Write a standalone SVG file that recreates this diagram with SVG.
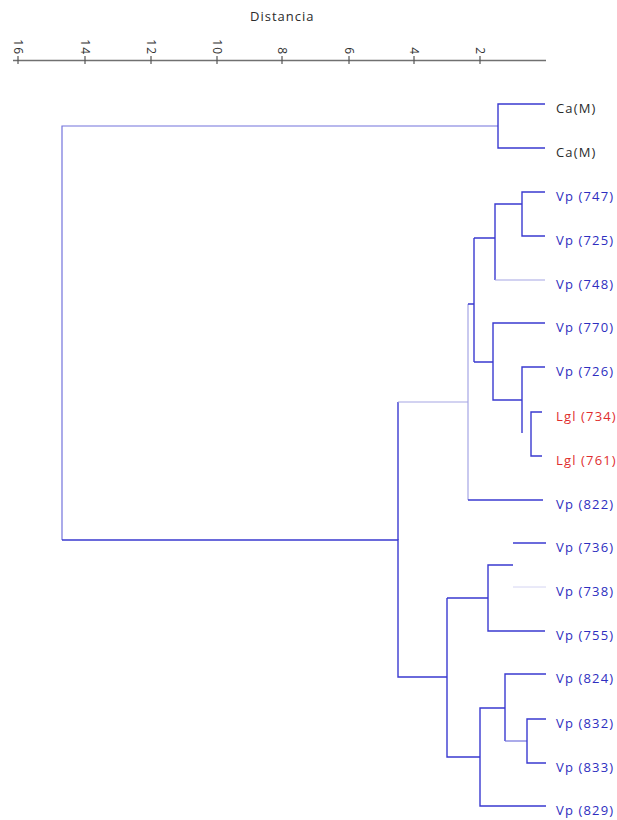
<svg xmlns="http://www.w3.org/2000/svg" width="617" height="820" viewBox="0 0 617 820">
<style>
.ln{fill:none;stroke:#3a3ad0;stroke-width:1.4}
.fa{fill:none;stroke:#a6a6e4;stroke-width:1.2}
.vf{fill:none;stroke:#d4d4f2;stroke-width:1}
.md{fill:none;stroke:#7373dc;stroke-width:1.2}
.lb{font-family:"Open Sans",sans-serif;font-size:13px;letter-spacing:1.15px;fill:#2e2ec0}
.red{fill:#e02e2e}
.gr{fill:#2b2b2b}
.tk{font-family:"Open Sans",sans-serif;font-size:12px;letter-spacing:1px;fill:#333}
</style>
<rect width="617" height="820" fill="#ffffff"/>
<g id="axis">
<text x="250" y="21" style="font-family:'Open Sans',sans-serif;font-size:13px;letter-spacing:1px;fill:#2b2b2b">Distancia</text>
<line x1="13" y1="60.5" x2="546" y2="60.5" stroke="#707070" stroke-width="1.6"/>
<g stroke="#555" stroke-width="1.2">
<line x1="18" y1="56" x2="18" y2="64"/>
<line x1="85" y1="56" x2="85" y2="64"/>
<line x1="151" y1="56" x2="151" y2="64"/>
<line x1="217" y1="56" x2="217" y2="64"/>
<line x1="282" y1="56" x2="282" y2="64"/>
<line x1="349" y1="56" x2="349" y2="64"/>
<line x1="414" y1="56" x2="414" y2="64"/>
<line x1="480" y1="56" x2="480" y2="64"/>
</g>
<g class="tk" text-anchor="end">
<text transform="translate(13.5,55) rotate(90)">16</text>
<text transform="translate(80.5,55) rotate(90)">14</text>
<text transform="translate(146.5,55) rotate(90)">12</text>
<text transform="translate(212.5,55) rotate(90)">10</text>
<text transform="translate(277.5,55) rotate(90)">8</text>
<text transform="translate(344.5,55) rotate(90)">6</text>
<text transform="translate(409.5,55) rotate(90)">4</text>
<text transform="translate(475.5,55) rotate(90)">2</text>
</g>
</g>
<g id="connectors">
<path class="md" d="M498,126 H62 V540"/>
<path class="ln" d="M62,540 H398 V677 H447"/>
<path class="ln" d="M398,540 V402"/>
<path class="ln" d="M545,104 H498 V148 H545"/>
<path class="fa" d="M398,402 H468 M468,304 V500"/>
<path class="ln" d="M468,500 H543"/>
<path class="ln" d="M468,304 H474 M474,238 V362 M474,238 H495 M474,362 H493"/>
<path class="ln" d="M522,204 H495 V280"/>
<path class="fa" d="M495,280 H545"/>
<path class="ln" d="M545,192 H522 V236 H545"/>
<path class="ln" d="M545,323 H493 V400 H522"/>
<path class="ln" d="M545,367 H522 V433"/>
<path class="ln" d="M542,412 H531 V456 H542"/>
<path class="ln" d="M447,598 V757 H480 M447,598 H488"/>
<path class="ln" d="M513,565 H488 V631 H545"/>
<path class="ln" d="M513,543 H546"/>
<path class="vf" d="M513,587 H546"/>
<path class="ln" d="M505,708 H480 V806 H546"/>
<path class="ln" d="M546,674 H505 V741"/>
<path class="md" d="M505,741 H527"/>
<path class="ln" d="M546,719 H527 V763 H546"/>
</g>
<g id="leaf-ca1"><text class="lb gr" x="556" y="113">Ca(M)</text></g>
<g id="leaf-ca2"><text class="lb gr" x="556" y="157">Ca(M)</text></g>
<g id="leaf-747"><text class="lb" x="556" y="201">Vp (747)</text></g>
<g id="leaf-725"><text class="lb" x="556" y="245">Vp (725)</text></g>
<g id="leaf-748"><text class="lb" x="556" y="289">Vp (748)</text></g>
<g id="leaf-770"><text class="lb" x="556" y="332">Vp (770)</text></g>
<g id="leaf-726"><text class="lb" x="556" y="376">Vp (726)</text></g>
<g id="leaf-734"><text class="lb red" x="556" y="421">Lgl (734)</text></g>
<g id="leaf-761"><text class="lb red" x="556" y="465">Lgl (761)</text></g>
<g id="leaf-822"><text class="lb" x="556" y="509">Vp (822)</text></g>
<g id="leaf-736"><text class="lb" x="556" y="552">Vp (736)</text></g>
<g id="leaf-738"><text class="lb" x="556" y="596">Vp (738)</text></g>
<g id="leaf-755"><text class="lb" x="556" y="640">Vp (755)</text></g>
<g id="leaf-824"><text class="lb" x="556" y="683">Vp (824)</text></g>
<g id="leaf-832"><text class="lb" x="556" y="728">Vp (832)</text></g>
<g id="leaf-833"><text class="lb" x="556" y="772">Vp (833)</text></g>
<g id="leaf-829"><text class="lb" x="556" y="815">Vp (829)</text></g>
</svg>
